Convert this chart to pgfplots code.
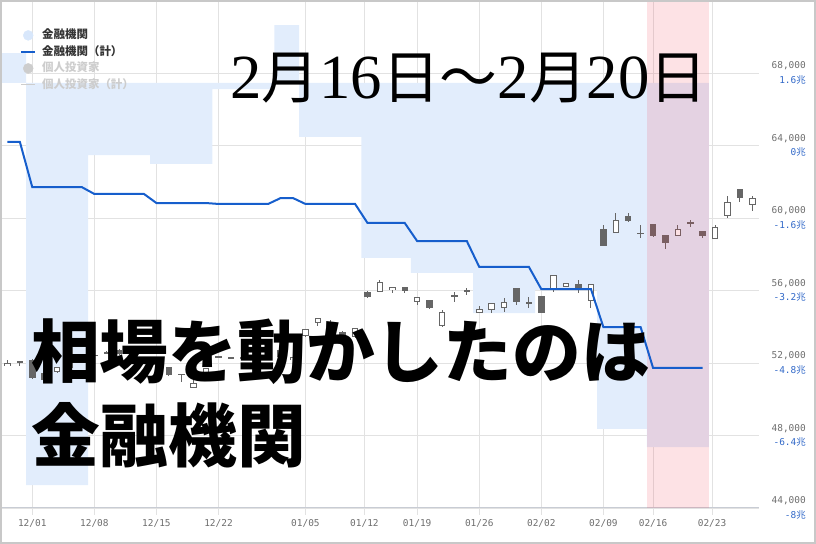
\documentclass[border=0pt]{standalone}
\usepackage{pgfplots}
\pgfplotsset{compat=1.18}
\usepackage{pgfplotstable}
\usepackage{fontspec}
\newfontfamily\cjk{Noto Sans CJK JP}
\newfontfamily\mono{DejaVu Sans Mono}
% title face: a Mincho if one is there, else serif digits + CJK sans
\IfFontExistsTF{HaranoAjiMincho-Regular.otf}
  {\newfontfamily\mincho{HaranoAjiMincho-Regular.otf}\let\minchocjk\mincho\def\digsize{58}}
  {\IfFontExistsTF{IPAexMincho}
    {\newfontfamily\mincho{IPAexMincho}\let\minchocjk\mincho\def\digsize{58}}
    {\newfontfamily\mincho{Liberation Serif}\let\minchocjk\cjk\def\digsize{63}}}
\newcommand\dg[1]{{\mincho\fontsize{\digsize}{58}\selectfont #1}}

\definecolor{barblue}{RGB}{226,237,252}
\definecolor{legblue}{RGB}{216,231,251}
\definecolor{lineblue}{RGB}{22,94,204}
\definecolor{candle}{RGB}{102,102,102}
\definecolor{gridc}{RGB}{226,226,226}
\definecolor{axisc}{RGB}{200,204,212}
\definecolor{tickc}{RGB}{110,110,110}
\definecolor{trilc}{RGB}{50,105,200}
\definecolor{pinkc}{RGB}{240,60,80}
\definecolor{fadec}{RGB}{205,205,205}
\definecolor{framec}{RGB}{200,200,200}

% daily candles, x = trading day (12/01 = 0)
\pgfplotstableread{
i o h l c
-2 51834 52165 51834 51999
-1 52060 52060 51834 52050
0 52165 52200 51100 51172
1 51448 51500 51000 51061
2 51503 51800 51450 51779
3 51723 52900 51700 52882
4 52330 52420 52250 52350
5 52450 52500 52380 52420
6 52540 52650 52480 52560
7 52717 52750 52450 52496
8 52600 52700 52550 52650
9 52900 52950 52550 52600
10 52100 52150 51850 51900
11 51779 51800 51300 51337
12 51392 51420 50951 51380
13 50620 51061 50600 50896
14 51448 51750 51420 51723
15 52330 52400 52270 52340
16 52275 52350 52220 52285
17 52330 52350 52200 52220
18 52300 52380 52250 52320
19 52330 52580 52300 52551
20 52716 52750 52300 52330
21 52165 52350 52100 52330
22 53490 53900 53450 53876
23 54206 54500 54050 54482
24 54206 54372 53900 53931
25 53710 53750 53100 53158
26 53434 53950 53400 53931
27 55916 55950 55600 55641
28 55916 56578 55900 56468
29 56026 56220 55861 56192
30 56192 56220 55861 55971
31 55365 55660 55199 55641
32 55475 55500 55000 55034
33 54041 54924 54000 54813
34 55641 55916 55365 55751
35 55960 56136 55751 55980
36 54758 55144 54740 54979
37 54924 55330 54758 55310
38 55034 55586 54813 55365
39 56136 56150 55199 55365
40 55300 55640 55034 55320
41 55696 55720 54740 54758
42 56026 56880 55916 56854
43 56192 56440 56170 56412
44 56357 56578 55861 56026
45 55420 56380 55034 56357
46 59392 59613 58430 58454
47 59171 60275 59150 59889
48 60109 60275 59778 59834
49 59160 59613 58895 59180
50 59668 59690 58951 59006
51 59061 59080 58288 58619
52 59006 59613 58990 59392
53 59720 59889 59502 59730
54 59282 59300 58895 59006
55 58840 59613 58820 59502
56 60109 61213 59999 60882
57 61599 61620 60882 61102
58 60716 61213 60385 61102
}\candles

\pgfplotsset{
  base/.style={scale only axis, width=758.6bp, height=507.5bp,
    at={(0bp,36bp)}, anchor=south west, xmin=-2.6, xmax=58.5},
  lab/.style={font=\mono\fontsize{9.5}{11}\selectfont},
}

\begin{document}
\begin{tikzpicture}
\useasboundingbox (0,0) rectangle (816bp,544bp);

% grid, dates, prices
\begin{axis}[base, ymin=44000, ymax=72000,
  axis line style={draw=none}, scaled y ticks=false,
  xtick={0,5,10,15,22,26.75,31,36,41,46,50,54.75},
  xticklabels={12/01,12/08,12/15,12/22,01/05,01/12,01/19,01/26,02/02,02/09,02/16,02/23},
  xtick pos=bottom, tick align=outside, major tick length=7bp,
  xtick style={draw=gridc, line width=0.8bp},
  ytick={44000,48000,...,68000},
  yticklabels={{44,000},{48,000},{52,000},{56,000},{60,000},{64,000},{68,000}},
  ytick pos=right, yticklabel pos=right, ytick style={draw=none},
  xmajorgrids, ymajorgrids, grid style={draw=gridc, line width=0.8bp},
  extra y ticks={44000}, extra y tick labels={},
  extra y tick style={major grid style={draw=axisc, line width=1bp}},
  xticklabel style={lab, text=tickc, anchor=center, yshift=-8bp},
  yticklabel style={lab, text=tickc, anchor=east, inner sep=0pt, xshift=40.4bp, yshift=7bp},
]
\end{axis}

% weekly net flow of financial institutions
\begin{axis}[base, hide axis, ymin=-1.0494, ymax=0.2037]
\addplot[ybar interval, fill=barblue, draw=none] coordinates {
  (-4.5,0.074) (-0.5,-0.993) (4.5,-0.178) (9.5,-0.200) (14.5,-0.015)
  (19.5,0.143) (21.5,-0.133) (26.5,-0.432) (30.5,-0.469) (35.5,-0.568)
  (40.5,-0.511) (45.5,-0.854) (49.5,-0.899) (54.5,0)};
\end{axis}

% candles and highlighted week
\begin{axis}[base, hide axis, ymin=44000, ymax=72000]
\addplot[draw=none, mark=none, error bars/.cd, y dir=both, y explicit, error mark=none,
  error bar style={draw=candle, line width=1bp}]
  table[x=i, y expr=(\thisrow{h}+\thisrow{l})/2, y error expr=(\thisrow{h}-\thisrow{l})/2] {\candles};
\addplot[draw=none, mark=none, error bars/.cd, y dir=both, y explicit, error mark=none,
  error bar style={draw=candle, line width=6.5bp}]
  table[x=i, y expr=(\thisrow{o}+\thisrow{c})/2, y error expr={max(abs(\thisrow{c}-\thisrow{o})/2,30)}] {\candles};
\addplot[draw=none, mark=none, error bars/.cd, y dir=both, y explicit, error mark=none,
  error bar style={draw=white, line width=4.5bp}]
  table[x=i, y expr=(\thisrow{o}+\thisrow{c})/2, y error expr={max((\thisrow{c}-\thisrow{o})/2-55,0)}] {\candles};
\addplot[ybar interval, fill=pinkc, fill opacity=0.15, draw=none] coordinates {(49.5,72000) (54.5,72000)};
\end{axis}

% cumulative, trillion yen
\begin{axis}[base, ymin=-8, ymax=3.2,
  axis line style={draw=none}, xtick=\empty,
  ytick={-8,-6.4,-4.8,-3.2,-1.6,0,1.6},
  yticklabels={{\mono-8}{\cjk 兆},{\mono-6.4}{\cjk 兆},{\mono-4.8}{\cjk 兆},{\mono-3.2}{\cjk 兆},{\mono-1.6}{\cjk 兆},{\mono 0}{\cjk 兆},{\mono 1.6}{\cjk 兆}},
  ytick pos=right, yticklabel pos=right, ytick style={draw=none},
  yticklabel style={font=\fontsize{9.5}{11}\selectfont, text=trilc, anchor=east, inner sep=0pt, xshift=47.4bp, yshift=-6.5bp},
  legend style={at={(0.0264,0.943)}, anchor=north west, draw=none, fill=none, inner sep=0pt,
    row sep=5bp, font=\cjk\bfseries\fontsize{11.5}{13}\selectfont,
    nodes={inner sep=0pt, text height=9bp, text depth=2.5bp},
    /tikz/every odd column/.append style={column sep=6bp}},
  legend cell align=left,
]
\addplot[forget plot, lineblue, line width=2bp] coordinates {
  (-2,0.08) (-1,0.08) (0,-0.92) (4,-0.92) (5,-1.07) (9,-1.07) (10,-1.27) (14,-1.27)
  (15,-1.29) (19,-1.29) (20,-1.16) (21,-1.16) (22,-1.29) (26,-1.29) (27,-1.71) (30,-1.71)
  (31,-2.11) (35,-2.11) (36,-2.68) (40,-2.68) (41,-3.17) (45,-3.17) (46,-4.01) (49,-4.01)
  (50,-4.91) (54,-4.91)};
\addlegendimage{legend image code/.code={\fill[legblue] (7bp,0bp) circle (5bp);}}
\addlegendentry{\textcolor[RGB]{51,51,51}{金融機関}}
\addlegendimage{legend image code/.code={\draw[lineblue, line width=2bp] (0bp,0bp) -- (14bp,0bp);}}
\addlegendentry{\textcolor[RGB]{51,51,51}{金融機関（計）}}
\addlegendimage{legend image code/.code={\fill[fadec] (7bp,0bp) circle (5bp);}}
\addlegendentry{\textcolor{fadec}{個人投資家}}
\addlegendimage{legend image code/.code={\draw[fadec, line width=1.2bp] (0bp,0bp) -- (14bp,0bp);}}
\addlegendentry{\textcolor{fadec}{個人投資家（計）}}
\end{axis}

\node[anchor=west, inner sep=0pt, font=\fontsize{58}{58}\selectfont] at (230bp,466bp)
  {\dg{2}{\minchocjk 月}\dg{16}{\minchocjk 日～}\dg{2}{\minchocjk 月}\dg{20}{\minchocjk 日}};
\node[anchor=west, inner sep=0pt, font=\cjk\bfseries\fontsize{69}{69}\selectfont] at (31bp,192bp) {相場を動かしたのは};
\node[anchor=west, inner sep=0pt, font=\cjk\bfseries\fontsize{69}{69}\selectfont] at (31bp,109bp) {金融機関};
\draw[framec, line width=1.2bp] (1bp,1bp) rectangle (815bp,543bp);
\end{tikzpicture}
\end{document}
